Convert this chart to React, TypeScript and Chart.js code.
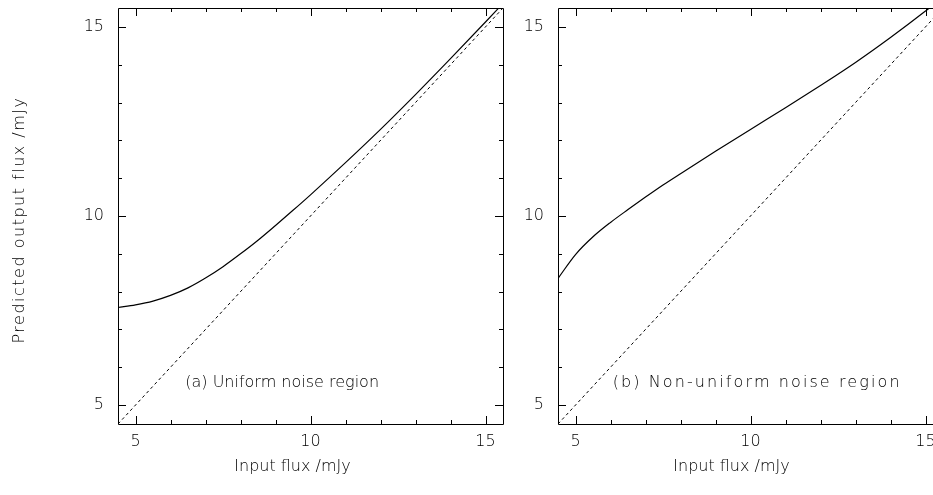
import React, { useEffect, useRef } from "react";
import { Chart, registerables } from "chart.js";

Chart.register(...registerables);

// Input flux (mJy) sampled for the uniform-noise curve
const uniformFlux = [4.5, 5, 5.5, 6, 6.5, 7, 7.5, 8, 8.5, 9, 9.5, 10, 11, 12, 13, 14, 15, 15.5];
// Predicted output flux (mJy) in the uniform-noise region
const uniformOutput = [7.58, 7.65, 7.75, 7.9, 8.1, 8.36, 8.66, 9.0, 9.36, 9.75, 10.15, 10.56, 11.41, 12.29, 13.21, 14.16, 15.13, 15.62];
// Input flux (mJy) sampled for the non-uniform-noise curve
const nonUniformFlux = [4.5, 5, 5.5, 6, 6.5, 7, 7.5, 8, 9, 10, 11, 12, 13, 14, 15, 15.5];
// Predicted output flux (mJy) in the non-uniform-noise region
const nonUniformOutput = [8.35, 8.98, 9.45, 9.83, 10.17, 10.5, 10.82, 11.12, 11.71, 12.29, 12.86, 13.45, 14.06, 14.72, 15.42, 15.79];
// One-to-one reference line
const identityLine = [4.5, 15.5];

const axisMin = 4.5;
const axisMax = 15.5;
const labelledTicks = [5, 10, 15];
const minorTicks = [5, 6, 7, 8, 9, 10, 11, 12, 13, 14, 15];

const xTitle = "Input flux /mJy";
const yTitle = "Predicted output flux /mJy";
const noteA = "(a) Uniform noise region";
const noteB = "(b) Non-uniform noise region";

const INK = "#000";
const FONT = '"DejaVu Sans", sans-serif';
const FONT_SIZE = 16;
const FONT_WEIGHT = 200;

type DecorOpts = {
  note: string;
  noteX: number;
  noteY: number;
  noteSpacing: number;
  showYTitle: boolean;
  xTitleShift: number;
};

// Frame with inward ticks on all four sides, axis titles and the panel note
const panelDecor = {
  id: "panelDecor",
  afterDatasetsDraw(chart: any, _args: any, opts: DecorOpts) {
    const { ctx, chartArea, scales } = chart;
    const xs = scales.x;
    const ys = scales.y;
    const { left, right, top, bottom } = chartArea;
    ctx.save();
    ctx.strokeStyle = INK;
    ctx.lineWidth = 1;
    ctx.beginPath();
    ctx.rect(left + 0.5, top + 0.5, right - left, bottom - top);
    for (const v of minorTicks) {
      const len = labelledTicks.includes(v) ? 8 : 4;
      const px = Math.round(xs.getPixelForValue(v)) + 0.5;
      ctx.moveTo(px, bottom);
      ctx.lineTo(px, bottom - len);
      ctx.moveTo(px, top);
      ctx.lineTo(px, top + len);
      const py = Math.round(ys.getPixelForValue(v)) + 0.5;
      ctx.moveTo(left, py);
      ctx.lineTo(left + len, py);
      ctx.moveTo(right, py);
      ctx.lineTo(right - len, py);
    }
    ctx.stroke();

    ctx.fillStyle = INK;
    ctx.font = `${FONT_WEIGHT} ${FONT_SIZE}px ${FONT}`;
    ctx.textAlign = "center";
    ctx.textBaseline = "middle";
    ctx.fillText(xTitle, (left + right) / 2 + opts.xTitleShift, bottom + 43);
    (ctx as any).letterSpacing = `${opts.noteSpacing}px`;
    ctx.fillText(opts.note, xs.getPixelForValue(opts.noteX), ys.getPixelForValue(opts.noteY));
    if (opts.showYTitle) {
      ctx.translate(20, (top + bottom) / 2 + 4);
      ctx.rotate(-Math.PI / 2);
      (ctx as any).letterSpacing = "1.5px";
      ctx.fillText(yTitle, 0, 0);
    }
    ctx.restore();
  },
};

type PanelProps = {
  flux: number[];
  output: number[];
  canvasLeft: number;
  canvasWidth: number;
  axisWidth: number;
  padRight: number;
  decor: DecorOpts;
};

function Panel({ flux, output, canvasLeft, canvasWidth, axisWidth, padRight, decor }: PanelProps) {
  const ref = useRef<HTMLCanvasElement>(null);

  useEffect(() => {
    if (!ref.current) return;
    const tickFont = { family: FONT, size: FONT_SIZE, weight: FONT_WEIGHT };
    const chart = new Chart(ref.current, {
      type: "line",
      data: {
        datasets: [
          {
            data: flux.map((f, i) => ({ x: f, y: output[i] })),
            borderColor: INK,
            borderWidth: 1.2,
            pointRadius: 0,
            cubicInterpolationMode: "monotone",
            fill: false,
          },
          {
            data: identityLine.map((v) => ({ x: v, y: v })),
            borderColor: INK,
            borderWidth: 1,
            borderDash: [3, 3],
            pointRadius: 0,
            fill: false,
          },
        ],
      },
      options: {
        responsive: false,
        animation: false,
        devicePixelRatio: 1,
        layout: { padding: { left: 0, top: 8, right: padRight, bottom: 0 } },
        plugins: {
          legend: { display: false },
          tooltip: { enabled: false },
          panelDecor: decor,
        } as any,
        scales: {
          x: {
            type: "linear",
            min: axisMin,
            max: axisMax,
            grid: { display: false, drawTicks: false },
            border: { display: false },
            ticks: {
              stepSize: 5,
              includeBounds: false,
              autoSkip: false,
              maxRotation: 0,
              padding: 8,
              color: INK,
              font: tickFont,
            },
            afterFit(scale: any) {
              scale.height = 71;
              scale.paddingLeft = 0;
              scale.paddingRight = 0;
            },
          },
          y: {
            type: "linear",
            min: axisMin,
            max: axisMax,
            grid: { display: false, drawTicks: false },
            border: { display: false },
            ticks: {
              stepSize: 5,
              includeBounds: false,
              autoSkip: false,
              padding: 14,
              color: INK,
              font: tickFont,
            },
            afterFit(scale: any) {
              scale.width = axisWidth;
              scale.paddingTop = 0;
              scale.paddingBottom = 0;
            },
          },
        },
      },
      plugins: [panelDecor],
    } as any);
    return () => chart.destroy();
  }, []);

  return (
    <canvas
      ref={ref}
      width={canvasWidth}
      height={495}
      style={{ position: "absolute", left: canvasLeft, top: 0, width: canvasWidth, height: 495 }}
    />
  );
}

export default function App() {
  return (
    <div
      style={{
        position: "fixed",
        left: 0,
        top: 0,
        width: 933,
        height: 495,
        overflow: "hidden",
        background: "#fff",
      }}
    >
      <Panel
        flux={uniformFlux}
        output={uniformOutput}
        canvasLeft={0}
        canvasWidth={520}
        axisWidth={118}
        padRight={17}
        decor={{ note: noteA, noteX: 9.19, noteY: 5.6, noteSpacing: 0, showYTitle: true, xTitleShift: -18 }}
      />
      <Panel
        flux={nonUniformFlux}
        output={nonUniformOutput}
        canvasLeft={520}
        canvasWidth={430}
        axisWidth={38}
        padRight={7}
        decor={{ note: noteB, noteX: 10.19, noteY: 5.6, noteSpacing: 2.1, showYTitle: false, xTitleShift: -19 }}
      />
    </div>
  );
}
